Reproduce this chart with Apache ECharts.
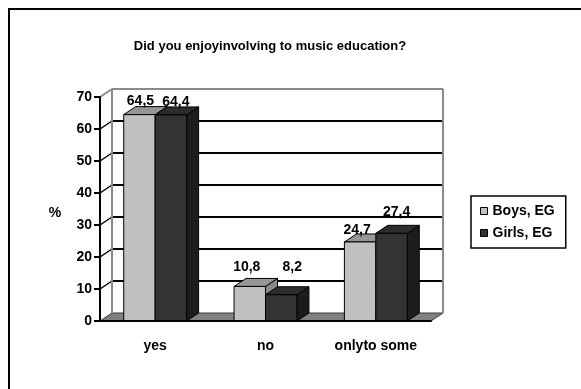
<!DOCTYPE html>
<html><head><meta charset="utf-8">
<script src="https://cdn.jsdelivr.net/npm/echarts@6/dist/echarts.min.js"></script>
<style>html,body{margin:0;padding:0;background:#fff}#c{width:581px;height:389px}</style>
</head><body><div id="c"></div>
<script>
const categories = ['yes', 'no', 'onlyto some'];
const boys = [64.5, 10.8, 24.7];
const girls = [64.4, 8.2, 27.4];
const yTicks = [0, 10, 20, 30, 40, 50, 60, 70];
const seriesNames = ['Boys, EG', 'Girls, EG'];
const titleText = 'Did you enjoyinvolving to music education?';
const yName = '%';
// label nudges relative to bar top (pixels)
const boysLabelNudge = [[1, -5], [-3, -11], [-3, -4]];
const girlsLabelNudge = [[5, -5], [11, -20], [5, -13]];

const DX = 12, DY = -8;
const FONT = '"Liberation Sans", Arial, sans-serif';

const chart = echarts.init(document.getElementById('c'), null, {renderer: 'canvas'});

function frameItem(params, api) {
  const cs = params.coordSys;
  const v = api.value(1);
  const y = api.coord([0, v])[1];
  const x0 = cs.x, x1 = cs.x + cs.width;
  const children = [];
  const isTop = v === yTicks[yTicks.length - 1];
  const isBottom = v === yTicks[0];
  if (isBottom) {
    children.push({type: 'polygon', shape: {points: [[x0, y], [x1, y], [x1 + DX, y + DY], [x0 + DX, y + DY]]},
      style: {fill: '#808080', stroke: '#3a3a3a', lineWidth: 1}});
  } else {
    children.push({type: 'line', shape: {x1: x0 + DX, y1: y + DY, x2: x1 + DX, y2: y + DY},
      style: {stroke: isTop ? '#8a8a8a' : '#000', lineWidth: 2}});
    children.push({type: 'line', shape: {x1: x0, y1: y, x2: x0 + DX, y2: y + DY},
      style: {stroke: isTop ? '#8a8a8a' : '#000', lineWidth: isTop ? 2 : 1.5}});
  }
  if (isTop) {
    const yb = api.coord([0, yTicks[0]])[1];
    children.push({type: 'line', shape: {x1: x0 + DX, y1: y + DY, x2: x0 + DX, y2: yb + DY}, style: {stroke: '#8a8a8a', lineWidth: 2}});
    children.push({type: 'line', shape: {x1: x1 + DX, y1: y + DY, x2: x1 + DX, y2: yb + DY}, style: {stroke: '#8a8a8a', lineWidth: 2}});
  }
  return {type: 'group', children: children};
}

function barRenderer(si, nudges) {
  return function (params, api) {
    const ci = api.value(0), v = api.value(1);
    const c = api.coord([ci, v]);
    const b = api.coord([ci, 0]);
    const band = api.size([1, 0])[0];
    const w = band * 0.285;
    const xl = si === 0 ? c[0] - w : c[0];
    const xr = xl + w;
    const yt = c[1], yb = b[1];
    const cols = si === 0 ? {front: '#c0c0c0', top: '#969696', side: '#8a8a8a'}
                          : {front: '#333333', top: '#2c2c2c', side: '#1c1c1c'};
    const st = {stroke: '#000', lineWidth: 1, lineJoin: 'round'};
    const n = nudges[params.dataIndex];
    return {type: 'group', children: [
      {type: 'polygon', shape: {points: [[xr, yb], [xr + DX, yb + DY], [xr + DX, yt + DY], [xr, yt]]}, style: Object.assign({fill: cols.side}, st)},
      {type: 'polygon', shape: {points: [[xl, yt], [xr, yt], [xr + DX, yt + DY], [xl + DX, yt + DY]]}, style: Object.assign({fill: cols.top}, st)},
      {type: 'rect', shape: {x: xl, y: yt, width: w, height: yb - yt}, style: Object.assign({fill: cols.front}, st)},
      {type: 'text', x: (xl + xr) / 2 + n[0], y: yt + DY + n[1], z2: 100,
        style: {text: String(v).replace('.', ','), font: 'bold 14px ' + FONT, fill: '#000', align: 'center', verticalAlign: 'middle'}}
    ]};
  };
}

const option = {
  animation: false,
  backgroundColor: '#fff',
  grid: {left: 100, right: 150, top: 97, bottom: 68},
  xAxis: {
    type: 'category', data: categories, z: 10,
    axisLine: {lineStyle: {color: '#000', width: 2}},
    axisTick: {length: 7, lineStyle: {color: '#000', width: 2}},
    axisLabel: {color: '#000', fontFamily: FONT, fontWeight: 'bold', fontSize: 14, margin: 18}
  },
  yAxis: {
    type: 'value', min: yTicks[0], max: yTicks[yTicks.length - 1], interval: 10, z: 10,
    axisLine: {show: true, lineStyle: {color: '#000', width: 2}},
    axisTick: {show: true, length: 6, lineStyle: {color: '#000', width: 2}},
    axisLabel: {color: '#000', fontFamily: FONT, fontWeight: 'bold', fontSize: 14, margin: 8},
    splitLine: {show: false}
  },
  legend: {
    orient: 'vertical', left: 471, top: 196, itemWidth: 7, itemHeight: 7, itemGap: 8,
    padding: [8, 11, 8, 9], borderColor: '#000', borderWidth: 1.5, icon: 'rect',
    data: seriesNames,
    itemStyle: {borderColor: '#000', borderWidth: 1},
    textStyle: {fontFamily: FONT, fontWeight: 'bold', fontSize: 14, color: '#000'}
  },
  graphic: [
    {type: 'rect', shape: {x: 9, y: 9, width: 700, height: 500}, style: {fill: 'none', stroke: '#000', lineWidth: 2}, silent: true},
    {type: 'text', x: 270, y: 46, style: {text: titleText, font: 'bold 13px ' + FONT, fill: '#000', align: 'center', verticalAlign: 'middle'}},
    {type: 'text', x: 55, y: 213, style: {text: yName, font: 'bold 14px ' + FONT, fill: '#000', align: 'center', verticalAlign: 'middle'}}
  ],
  series: [
    {type: 'custom', name: 'frame', z: 1, clip: false, silent: true, renderItem: frameItem,
      data: yTicks.map(function (t) { return [0, t]; })},
    {type: 'custom', name: seriesNames[0], z: 3, clip: false, itemStyle: {color: '#c0c0c0'},
      renderItem: barRenderer(0, boysLabelNudge), data: boys.map(function (v, i) { return [i, v]; })},
    {type: 'custom', name: seriesNames[1], z: 4, clip: false, itemStyle: {color: '#333333'},
      renderItem: barRenderer(1, girlsLabelNudge), data: girls.map(function (v, i) { return [i, v]; })}
  ]
};
chart.setOption(option);
</script></body></html>
